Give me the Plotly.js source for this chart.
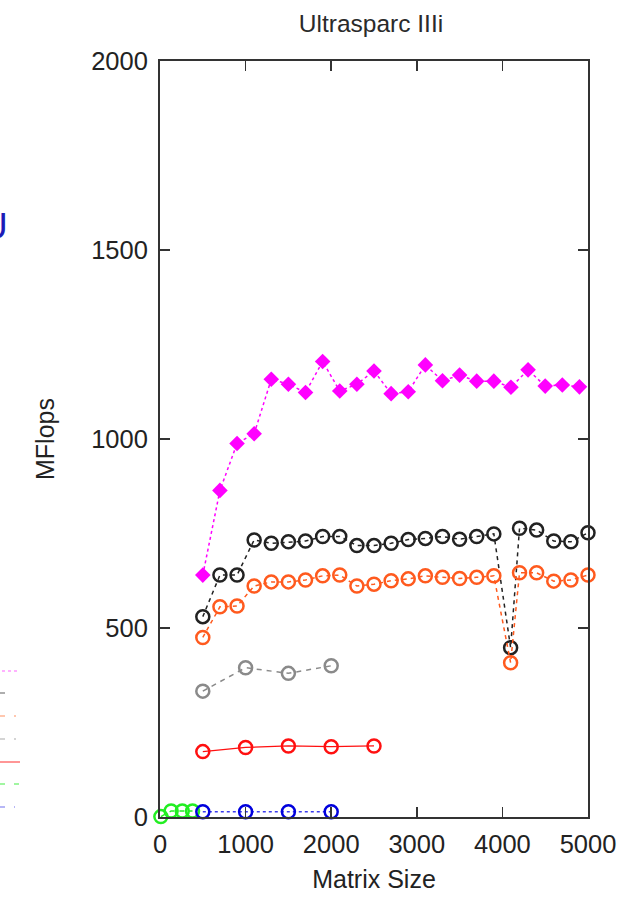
<!DOCTYPE html>
<html>
<head>
<meta charset="utf-8">
<script src="https://cdn.plot.ly/plotly-3.0.1.min.js"></script>
<style>html,body{margin:0;padding:0;background:#fff;}#chart{width:629px;height:905px;}</style>
</head>
<body>
<div id="chart"></div>
<script>
// ---- data ----
const sizesMagenta = [500,700,900,1100,1300,1500,1700,1900,2100,2300,2500,2700,2900,3100,3300,3500,3700,3900,4100,4300,4500,4700,4900];
const mflopsMagenta = [640,864,988,1014,1158,1145,1123,1205,1127,1145,1180,1120,1125,1196,1154,1169,1153,1153,1137,1183,1140,1143,1138];

const sizesBlackOrange = [500,700,900,1100,1300,1500,1700,1900,2100,2300,2500,2700,2900,3100,3300,3500,3700,3900,4096,4200,4400,4600,4800,5000];
const mflopsBlack = [530,640,640,733,724,728,730,742,742,718,718,724,734,737,742,735,742,749,448,764,759,730,728,752];
const mflopsOrange = [475,556,558,611,622,622,627,638,640,611,616,625,630,638,634,631,634,638,408,646,646,624,627,640];

const sizesGray = [500,1000,1500,2000];
const mflopsGray = [333,395,380,400];

const sizesRed = [500,1000,1500,2000,2500];
const mflopsRed = [173,184,188,186,188];

const sizesGreen = [10,130,260,380];
const mflopsGreen = [1,16,16,16];

const sizesBlue = [500,1000,1500,2000];
const mflopsBlue = [14,14,14,14];

const xTicks = [0,1000,2000,3000,4000,5000];
const yTicks = [0,500,1000,1500,2000];

const titleText = 'Ultrasparc IIIi';
const xTitle = 'Matrix Size';
const yTitle = 'MFlops';

// ---- styling ----
const FONT = '"Liberation Sans", Arial, sans-serif';
const circ = (color) => ({symbol:'circle-open', size:13, color:color, line:{width:2.5, color:color}});

const traces = [
  {x:sizesMagenta, y:mflopsMagenta, mode:'lines+markers', line:{color:'#ff00ff', width:1.5, dash:'dot'},
   marker:{symbol:'diamond', size:12, color:'#ff00ff'}},
  {x:sizesBlackOrange, y:mflopsBlack, mode:'lines+markers', line:{color:'#222222', width:1.5, dash:'4px,4px'}, marker:circ('#222222')},
  {x:sizesBlackOrange, y:mflopsOrange, mode:'lines+markers', line:{color:'#ff5a1e', width:1.5, dash:'4px,4px'}, marker:circ('#ff5a1e')},
  {x:sizesGray, y:mflopsGray, mode:'lines+markers', line:{color:'#8a8a8a', width:1.5, dash:'5px,5px'}, marker:circ('#8a8a8a')},
  {x:sizesRed, y:mflopsRed, mode:'lines+markers', line:{color:'#ff1010', width:1.2}, marker:circ('#ff1010')},
  {x:sizesGreen, y:mflopsGreen, mode:'lines+markers', line:{color:'#22ee22', width:1.5, dash:'5px,5px'}, marker:circ('#22ee22')},
  {x:sizesBlue, y:mflopsBlue, mode:'lines+markers', line:{color:'#3a3aee', width:1.5, dash:'dot'}, marker:circ('#0000dd')}
];
traces.forEach(t => { t.cliponaxis = false; t.showlegend = false; t.hoverinfo = 'skip'; });

// cropped legend samples at the left edge (from neighbouring panel)
const legendSamples = [
  {color:'#ff66ff', dash:'dot', py:671, x1:18},
  {color:'#777777', dash:'dash', py:693, x1:13},
  {color:'#ff9060', dash:'dash', py:716, x1:16},
  {color:'#aaaaaa', dash:'dash', py:739, x1:16},
  {color:'#ff5050', dash:'solid', py:762, x1:20},
  {color:'#44ee44', dash:'dash', py:784, x1:19},
  {color:'#7070ee', dash:'dash', py:807, x1:15}
];
const L = 160, R = 41, T = 61, B = 88, W = 629, H = 905;
const pw = W - L - R, ph = H - T - B;
const px2paperX = px => (px - L) / pw;
const py2paperY = py => (H - B - py) / ph;
const shapes = legendSamples.map(s => ({
  type:'line', xref:'paper', yref:'paper',
  x0:px2paperX(-4), x1:px2paperX(s.x1), y0:py2paperY(s.py), y1:py2paperY(s.py),
  line:{color:s.color, width:1.2, dash:s.dash}
}));

const axisCommon = {
  showline:true, mirror:'ticks', linecolor:'#333333', linewidth:2,
  ticks:'inside', ticklen:10, tickwidth:1.5, tickcolor:'#333333',
  showgrid:false, zeroline:false,
  tickfont:{family:FONT, size:25.5, color:'#222222'}
};

const layout = {
  width:W, height:H,
  margin:{l:L, r:R, t:T, b:B, pad:0},
  paper_bgcolor:'#ffffff', plot_bgcolor:'#ffffff',
  title:{text:titleText, font:{family:FONT, size:24.5, color:'#2a2a2a'},
         x:0.493, xref:'paper', xanchor:'center', y:1-23/H, yref:'container', yanchor:'middle'},
  xaxis:Object.assign({}, axisCommon, {
    range:[0,5000], tickvals:xTicks, ticktext:xTicks.map(String), ticklabelstandoff:3,
    title:{text:xTitle, font:{family:FONT, size:25, color:'#222222'}, standoff:14}
  }),
  yaxis:Object.assign({}, axisCommon, {
    range:[0,2000], tickvals:yTicks, ticktext:yTicks.map(String), ticklabelstandoff:5,
    title:{text:yTitle, font:{family:FONT, size:25, color:'#222222'}, standoff:29}
  }),
  shapes:shapes,
  annotations:[{
    text:'U', xref:'paper', yref:'paper', x:px2paperX(-6), y:py2paperY(227),
    xanchor:'center', yanchor:'middle', showarrow:false,
    font:{family:FONT, size:37, color:'#1c1cb8'}
  }]
};

Plotly.newPlot('chart', traces, layout, {displayModeBar:false, staticPlot:true});
</script>
</body>
</html>
